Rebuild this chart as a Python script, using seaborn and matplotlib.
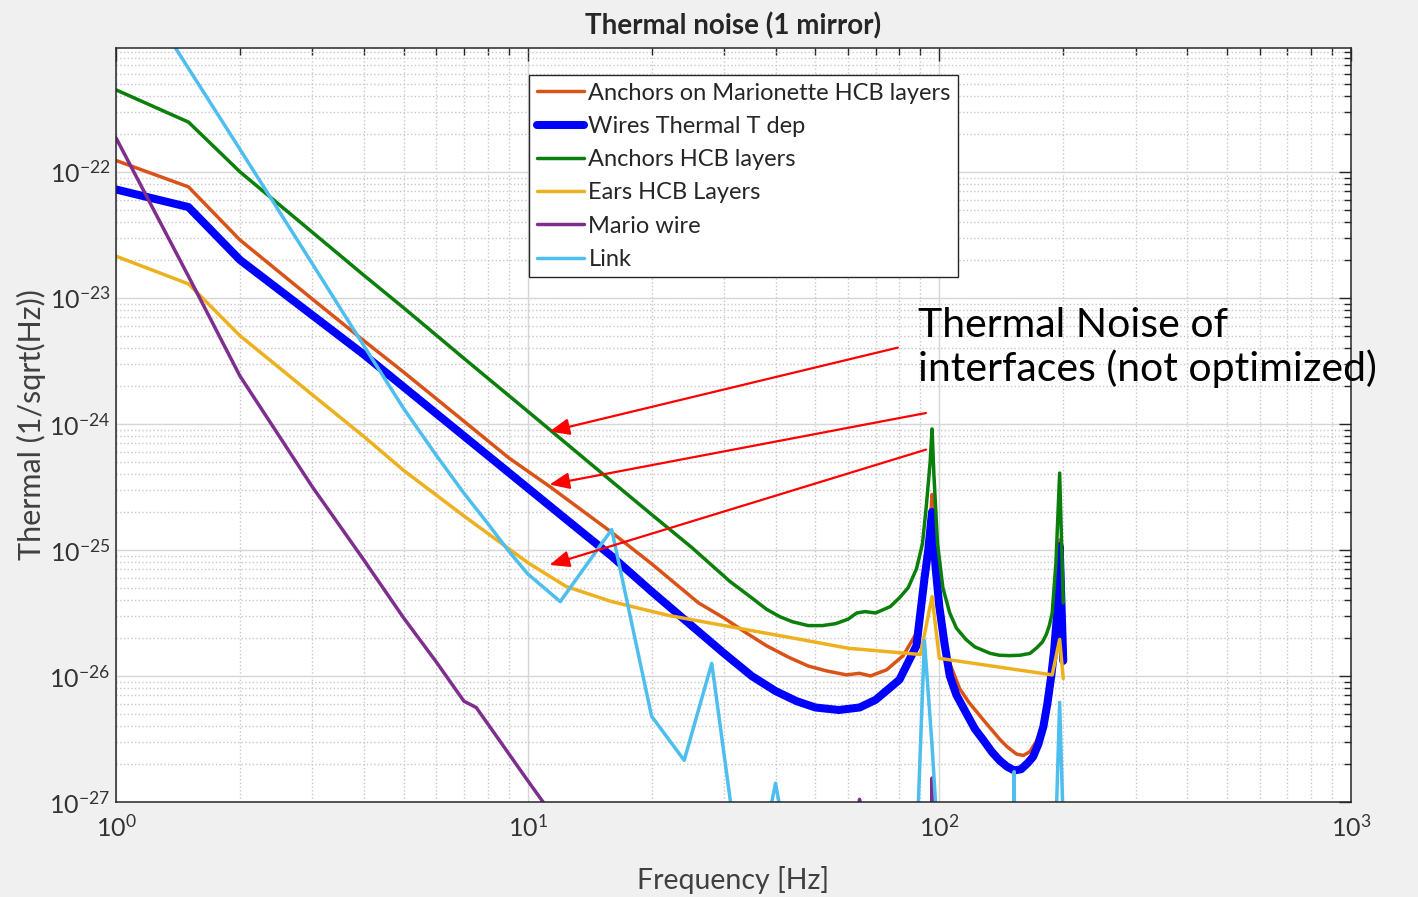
import matplotlib
matplotlib.use('Agg')
import pandas as pd
import matplotlib.pyplot as plt
import seaborn as sns
from matplotlib.ticker import NullFormatter, LogFormatterSciNotation

# ---- data (frequency [Hz], thermal noise [1/sqrt(Hz)]) ----
f_anch_mario = [1, 1.5, 2, 3, 4, 5, 7, 9, 11.35, 15.85, 20, 26, 30, 34, 38, 43, 48, 53, 59.5,
                64, 68, 74.5, 81.7, 88, 91, 93, 95, 96, 97, 99, 102, 106, 112, 118, 128, 140,
                146, 154, 160, 166, 172, 178, 183, 187, 190, 193, 196, 200]
anch_mario = [1.23e-22, 7.59e-23, 2.88e-23, 9.77e-24, 4.57e-24, 2.57e-24, 1.05e-24, 5.37e-25,
              3.16e-25, 1.41e-25, 7.76e-26, 3.80e-26, 2.88e-26, 2.19e-26, 1.74e-26, 1.41e-26,
              1.20e-26, 1.10e-26, 1.02e-26, 1.05e-26, 1.00e-26, 1.12e-26, 1.45e-26, 2.19e-26,
              3.55e-26, 7.08e-26, 1.58e-25, 2.75e-25, 1.26e-25, 4.47e-26, 2.00e-26, 1.26e-26,
              7.94e-27, 6.17e-27, 4.47e-27, 3.16e-27, 2.75e-27, 2.40e-27, 2.34e-27, 2.51e-27,
              3.02e-27, 3.98e-27, 5.89e-27, 8.91e-27, 1.35e-26, 2.95e-26, 1.20e-25, 1.26e-26]

f_wires = [1, 1.5, 2, 4, 8, 12, 16, 20, 25, 30, 35, 40, 45, 50, 57, 64, 70, 80, 88, 92, 94,
           96, 97, 98, 100, 103, 106, 110, 116, 122, 128, 134, 140, 146, 152, 158, 164, 169,
           174, 179, 183, 187, 190, 193, 196, 200]
wires = [7.24e-23, 5.25e-23, 2.00e-23, 3.55e-24, 5.62e-25, 1.91e-25, 8.91e-26, 4.68e-26,
         2.51e-26, 1.51e-26, 1.00e-26, 7.59e-27, 6.31e-27, 5.62e-27, 5.37e-27, 5.62e-27,
         6.46e-27, 9.33e-27, 1.74e-26, 5.89e-26, 1.00e-25, 2.00e-25, 1.12e-25, 7.08e-26,
         3.55e-26, 1.78e-26, 1.00e-26, 7.08e-27, 5.13e-27, 3.80e-27, 3.09e-27, 2.51e-27,
         2.14e-27, 1.91e-27, 1.78e-27, 1.82e-27, 2.04e-27, 2.29e-27, 2.88e-27, 3.98e-27,
         6.03e-27, 1.00e-26, 1.58e-26, 2.95e-26, 1.07e-25, 1.32e-26]

f_anch_hcb = [1, 1.5, 2, 3, 4, 5, 7, 10, 15, 20, 25, 31, 35, 38, 41, 44, 48, 52, 56, 60, 63,
              66, 70, 76, 80, 84, 88, 91, 93, 95, 96, 97, 99, 102, 106, 110, 116, 122, 133,
              140, 148, 157, 166, 172, 178, 182, 185, 188, 192, 196, 200]
anch_hcb = [4.47e-22, 2.48e-22, 1.00e-22, 3.31e-23, 1.51e-23, 8.32e-24, 3.31e-24, 1.26e-24,
            4.17e-25, 1.91e-25, 1.05e-25, 5.62e-26, 4.17e-26, 3.39e-26, 2.95e-26, 2.69e-26,
            2.51e-26, 2.51e-26, 2.60e-26, 2.82e-26, 3.16e-26, 3.24e-26, 3.16e-26, 3.55e-26,
            4.17e-26, 5.01e-26, 7.08e-26, 1.12e-25, 2.24e-25, 5.01e-25, 9.12e-25, 3.98e-25,
            1.12e-25, 5.01e-26, 3.16e-26, 2.40e-26, 1.95e-26, 1.70e-26, 1.51e-26, 1.46e-26,
            1.45e-26, 1.46e-26, 1.51e-26, 1.66e-26, 1.86e-26, 2.14e-26, 2.51e-26, 3.16e-26,
            7.94e-26, 4.07e-25, 3.80e-26]

f_ears = [1, 1.5, 2, 3, 4, 5, 7, 10, 12.4, 16, 22, 35, 46, 60, 90, 96, 100, 188, 196, 200]
ears = [2.14e-23, 1.29e-23, 5.01e-24, 1.70e-24, 7.94e-25, 4.27e-25, 1.86e-25, 7.94e-26,
        5.13e-26, 3.89e-26, 3.02e-26, 2.29e-26, 1.95e-26, 1.66e-26, 1.48e-26, 4.27e-26,
        1.38e-26, 1.02e-26, 1.95e-26, 9.55e-27]

f_mario = [1, 1.5, 2, 3, 4, 5, 6, 7, 7.5, 8, 10, 12, 20, 40, 62, 64, 66, 95, 96, 97, 200]
mario = [1.86e-22, 1.48e-23, 2.40e-24, 3.16e-25, 8.32e-26, 2.88e-26, 1.29e-26, 6.31e-27,
         5.62e-27, 4.17e-27, 1.48e-27, 6.46e-28, 6.31e-29, 3.16e-30, 1e-30, 1.05e-27, 1e-30,
         1e-32, 1.55e-27, 1e-32, 1e-33]

f_link = [1, 1.5, 2, 3, 4, 5, 6, 7, 8, 9, 10, 12, 16, 20, 24, 28, 32, 36, 40, 44, 48, 88, 92,
          96, 100, 104, 148, 152, 156, 188, 192, 196, 200]
link = [5.37e-21, 6.61e-22, 1.51e-22, 1.86e-23, 4.17e-24, 1.32e-24, 5.62e-25, 2.82e-25,
        1.62e-25, 9.77e-26, 6.46e-26, 3.89e-26, 1.45e-25, 4.79e-27, 2.14e-27, 1.26e-26,
        5.01e-28, 2.51e-28, 1.41e-27, 2.51e-28, 1e-29, 3.98e-28, 1.91e-26, 2.82e-27,
        3.16e-28, 1e-29, 1e-35, 1.74e-27, 1e-35, 1e-30, 6.31e-28, 6.17e-27, 6.31e-28]

series = [
    ('Anchors on Marionette HCB layers', f_anch_mario, anch_mario, '#D95319', 2.5),
    ('Wires Thermal T dep', f_wires, wires, '#0000FF', 5.8),
    ('Anchors HCB layers', f_anch_hcb, anch_hcb, '#0B7F0B', 2.5),
    ('Ears HCB Layers', f_ears, ears, '#EDB120', 2.5),
    ('Mario wire', f_mario, mario, '#7E2F8E', 2.5),
    ('Link', f_link, link, '#4DBEEE', 2.5),
]

x_major = [1, 10, 100, 1000]
y_major = [1e-27, 1e-26, 1e-25, 1e-24, 1e-23, 1e-22]

# annotation arrows: (tail, tip) in data coordinates
arrows = [((79.3, 4.03e-24), (11.3, 8.7e-25)),
          ((92.8, 1.22e-24), (11.3, 3.3e-25)),
          ((92.8, 6.25e-25), (11.3, 7.6e-26))]

# ---- style ----
sns.set_style('white')
plt.rcParams['font.family'] = ['Lato', 'DejaVu Sans']
plt.rcParams['axes.unicode_minus'] = False
plt.rcParams['text.color'] = '#262626'

fig = plt.figure(figsize=(14.18, 8.97), dpi=100, facecolor='#f0f0f0')
ax = fig.add_axes([116 / 1418, 95 / 897, 1235 / 1418, 754 / 897])
ax.set_facecolor('white')
ax.set_xscale('log')
ax.set_yscale('log')

for name, fx, fy, col, lw in series:
    df = pd.DataFrame({'f': fx, 'v': fy})
    sns.lineplot(data=df, x='f', y='v', ax=ax, color=col, linewidth=lw,
                 label=name, sort=False, estimator=None)

# explicit ticks so nothing sits outside the view
ax.set_xticks(x_major)
ax.set_yticks(y_major)
ax.set_xticks([m * d for d in x_major[:-1] for m in range(2, 10)], minor=True)
ax.set_yticks([m * d for d in y_major for m in range(2, 10)], minor=True)
ax.xaxis.set_major_formatter(LogFormatterSciNotation())
ax.yaxis.set_major_formatter(LogFormatterSciNotation())
ax.xaxis.set_minor_formatter(NullFormatter())
ax.yaxis.set_minor_formatter(NullFormatter())
ax.set_xlim(1, 1000)
ax.set_ylim(1e-27, 9.6e-22)

ax.grid(which='major', color='#d6d6d6', linestyle='-', linewidth=1.0)
ax.grid(which='minor', color='#c8c8c8', linestyle=':', linewidth=1.0)
ax.set_axisbelow(True)

for s in ax.spines.values():
    s.set_visible(True)
    s.set_color('#262626')
    s.set_linewidth(1.1)

ax.tick_params(which='both', direction='in', top=True, right=True,
               color='#262626', labelcolor='#333333', width=1.0)
ax.tick_params(which='major', length=9, labelsize=18, pad=4)
ax.tick_params(which='minor', length=5)
ax.tick_params(axis='x', which='major', pad=9)

ax.set_title('Thermal noise (1 mirror)', fontsize=20, fontweight='bold', pad=10)
ax.set_xlabel('Frequency [Hz]', fontsize=20.5, labelpad=18, color='#404040')
ax.set_ylabel('Thermal (1/sqrt(Hz))', fontsize=22, labelpad=2, color='#404040')

leg = ax.legend(loc='upper left', bbox_to_anchor=(0.3344, 0.9642), frameon=True,
                fancybox=False, edgecolor='#262626', framealpha=1, fontsize=17,
                handlelength=2.0, handletextpad=0.2, labelspacing=0.52,
                borderpad=0.32, borderaxespad=0)
leg.get_frame().set_linewidth(1.0)

for tail, tip in arrows:
    ax.annotate('', xy=tip, xytext=tail,
                arrowprops=dict(arrowstyle='-|>,head_length=1.2,head_width=0.5',
                                mutation_scale=10, color='red', lw=1.6,
                                shrinkA=0, shrinkB=0))

fig.text(918 / 1418, 1 - 307 / 897, 'Thermal Noise of\ninterfaces (not optimized)',
         fontsize=29.5, color='black', va='top', ha='left', linespacing=1.17)

fig.savefig('out.png', dpi=100, facecolor=fig.get_facecolor())
